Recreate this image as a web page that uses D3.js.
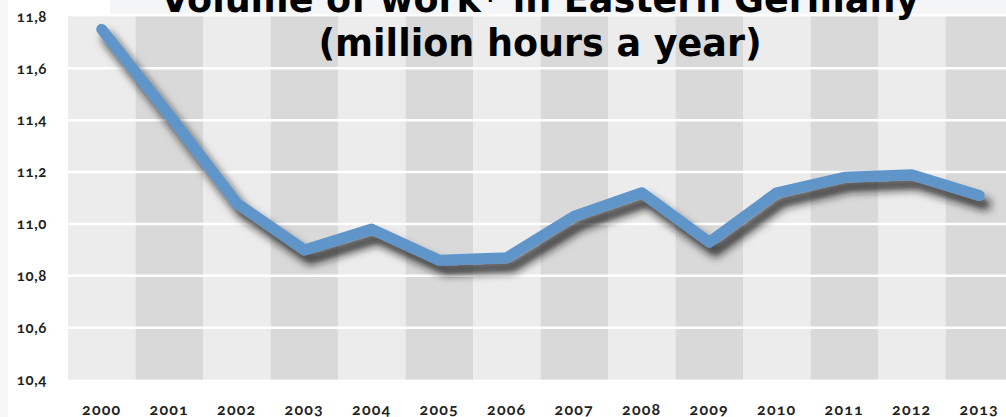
<!DOCTYPE html>
<html lang="en">

<head>
    <meta charset="UTF-8">
    <script src="https://cdn.jsdelivr.net/npm/d3@7/dist/d3.min.js"></script>
    <title>Volume of work in Eastern Germany</title>
    <style>
        body { margin: 0; background: #f5f6f8; }
        svg { display: block; }
    </style>
</head>

<body>
</body>
<script>
    // data
    var years = ["2000", "2001", "2002", "2003", "2004", "2005", "2006", "2007",
        "2008", "2009", "2010", "2011", "2012", "2013"];
    var hours = [11.75, 11.42, 11.08, 10.90, 10.98, 10.86, 10.87, 11.03,
        11.12, 10.93, 11.12, 11.18, 11.19, 11.11];
    var yTicks = [10.4, 10.6, 10.8, 11.0, 11.2, 11.4, 11.6, 11.8];
    var yTickLabels = ["10,4", "10,6", "10,8", "11,0", "11,2", "11,4", "11,6", "11,8"];
    var titleLines = ["Volume of work* in Eastern Germany", "(million hours a year)"];

    var width = 1006;
    var height = 417;
    var svg = d3.select("body").append("svg").attr("width", width).attr("height", height);

    var x = d3.scaleBand().domain(years).range([68, 68 + 67.5 * years.length]).padding(0);
    var y = d3.scaleLinear().domain([10.4, 11.8]).range([379.6, 16.4]);

    var defs = svg.append("defs");
    var f = defs.append("filter").attr("id", "shadow")
        .attr("x", "-10%").attr("y", "-10%").attr("width", "130%").attr("height", "150%");
    f.append("feDropShadow").attr("dx", 6).attr("dy", 9).attr("stdDeviation", 4.5)
        .attr("flood-color", "#141414").attr("flood-opacity", 0.85);

    // white panel
    svg.append("rect").attr("x", 8).attr("y", 0).attr("width", width - 8).attr("height", height)
        .attr("fill", "#ffffff");
    svg.append("rect").attr("x", 110).attr("y", 0).attr("width", width - 110).attr("height", 14)
        .attr("fill", "#f4f5f7");

    // alternating columns
    svg.selectAll("rect.col").data(years).enter().append("rect").attr("class", "col")
        .attr("x", function(d) { return x(d); })
        .attr("y", y(11.8))
        .attr("width", x.bandwidth())
        .attr("height", y(10.4) - y(11.8))
        .attr("fill", function(d, i) { return i % 2 === 0 ? "#ececec" : "#d9d9d9"; });

    // white grid lines
    svg.selectAll("line.grid").data(yTicks.slice(1, -1)).enter().append("line").attr("class", "grid")
        .attr("x1", x.range()[0]).attr("x2", x.range()[1])
        .attr("y1", function(d) { return y(d); }).attr("y2", function(d) { return y(d); })
        .attr("stroke", "#ffffff").attr("stroke-width", 2.5);

    // y labels
    svg.selectAll("text.ylab").data(yTicks).enter().append("text").attr("class", "ylab")
        .attr("x", 47)
        .attr("y", function(d) { return y(d); })
        .attr("dy", "0.35em")
        .attr("text-anchor", "end")
        .attr("font-family", "Lato, 'Open Sans', sans-serif")
        .attr("font-weight", 700)
        .attr("font-size", "15px")
        .attr("letter-spacing", "0.6px")
        .attr("fill", "#1e1e1e")
        .style("font-variant-numeric", "oldstyle-nums")
        .text(function(d, i) { return yTickLabels[i]; });

    // x labels
    svg.selectAll("text.xlab").data(years).enter().append("text").attr("class", "xlab")
        .attr("x", function(d) { return x(d) + x.bandwidth() / 2; })
        .attr("y", 409)
        .attr("dy", "0.35em")
        .attr("text-anchor", "middle")
        .attr("font-family", "Lato, 'Open Sans', sans-serif")
        .attr("font-weight", 700)
        .attr("font-size", "16px")
        .attr("letter-spacing", "1.2px")
        .attr("fill", "#222222")
        .style("font-variant-numeric", "oldstyle-nums")
        .text(function(d) { return d; });

    // the line with its shadow
    var line = d3.line()
        .x(function(d, i) { return x(years[i]) + x.bandwidth() / 2; })
        .y(function(d) { return y(d); });
    svg.append("path").datum(hours)
        .attr("d", line)
        .attr("fill", "none")
        .attr("stroke", "#6195c9")
        .attr("stroke-width", 11)
        .attr("stroke-linecap", "round")
        .attr("stroke-linejoin", "round")
        .attr("filter", "url(#shadow)");

    // title
    svg.selectAll("text.title").data(titleLines).enter().append("text").attr("class", "title")
        .attr("x", 540)
        .attr("y", function(d, i) { return 12 + i * 43.5; })
        .attr("text-anchor", "middle")
        .attr("font-family", "'DejaVu Sans', sans-serif")
        .attr("font-weight", "bold")
        .attr("font-size", "36.5px")
        .attr("fill", "#000000")
        .text(function(d) { return d; });
</script>

</html>
